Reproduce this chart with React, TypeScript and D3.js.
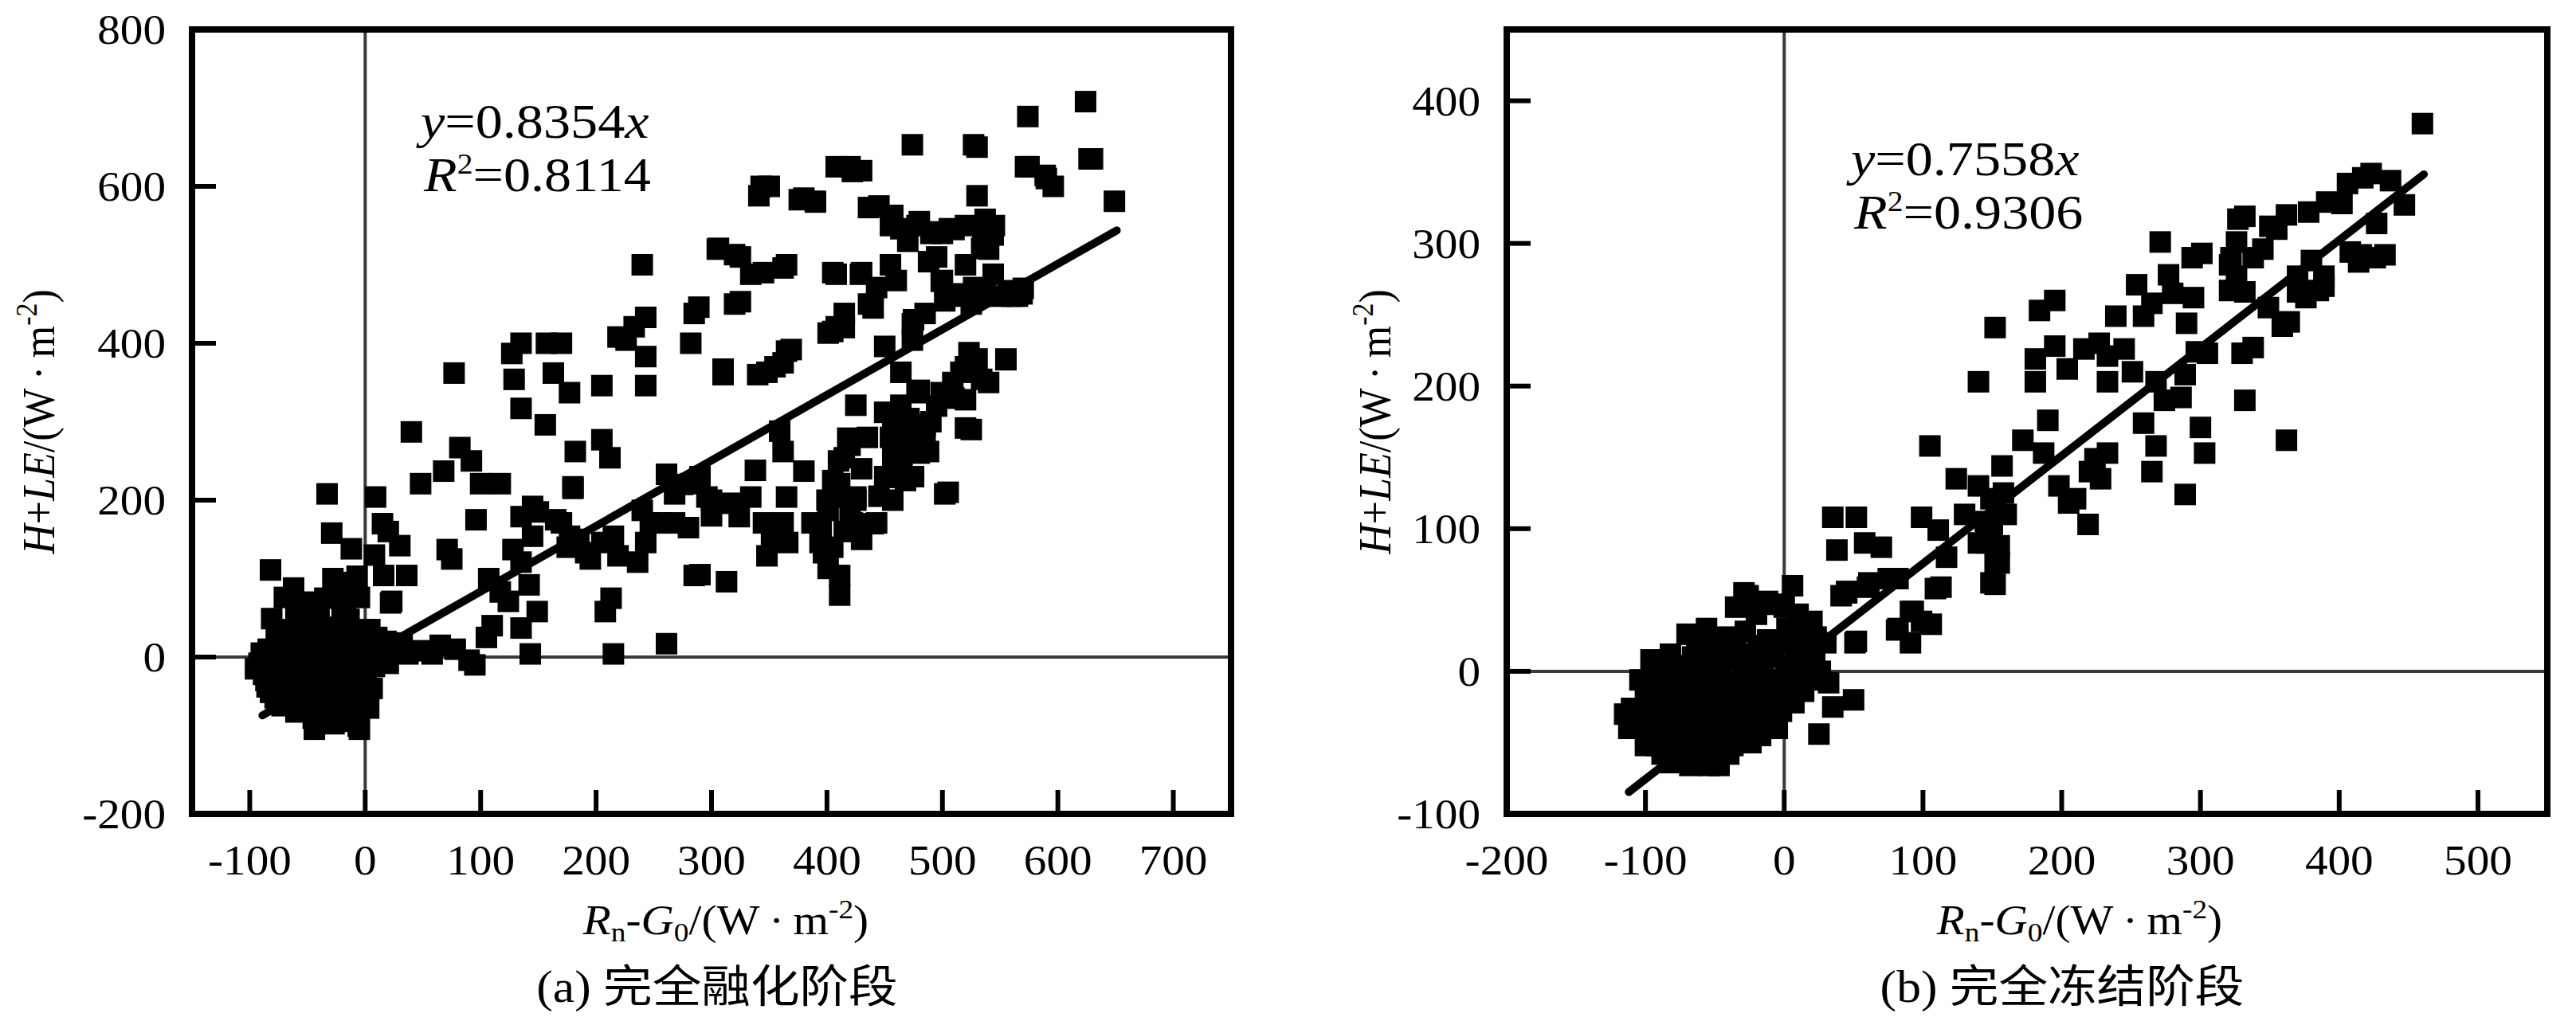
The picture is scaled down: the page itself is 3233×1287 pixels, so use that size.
import React from 'react';
import * as d3 from 'd3';

// ---------- data ----------
const ticksAX = [-100, 0, 100, 200, 300, 400, 500, 600, 700];
const ticksAY = [-200, 0, 200, 400, 600, 800];
const ticksBX = [-200, -100, 0, 100, 200, 300, 400, 500];
const ticksBY = [-100, 0, 100, 200, 300, 400];
const domainAX = [-150, 750];
const domainAY = [-200, 800];
const domainBX = [-200, 550];
const domainBY = [-100, 450];
const slopeA = 0.8354;
const slopeB = 0.7558;
const fitXA = [-89, 651];
const fitXB = [-112, 461];
const eqA = ['0.8354', '0.8114'];
const eqB = ['0.7558', '0.9306'];
const captionA = '(a) 完全融化阶段';
const captionB = '(b) 完全冻结阶段';

const pointsA: [number, number][] = [
  [-92,-8],[-90,5],[-88,-22],[-85,-38],[-84,10],[-80,-5],[-78,-52],[-77,22],[-74,-28],[-72,-62],[-70,5],[-68,35],[-66,-15],[-64,-42],[-62,18],[-60,-70],[-58,-5],[-56,45],[-55,-30],[-52,-55],[-50,10],[-48,30],[-46,-18],[-45,-78],[-43,-40],[-41,20],[-40,55],[-38,-5],[-36,-62],[-34,-28],[-32,38],[-30,8],[-28,-50],[-27,-85],[-25,-15],[-22,25],[-20,-70],[-18,-38],[-16,5],[-14,48],[-12,-22],[-10,-55],[-8,15],[-6,-88],[-5,-40],[-3,-8],[0,30],[1,-28],[3,-65],[5,10],[8,-12],[10,25],[12,-3],[15,8],[18,20],[20,-8],[24,12],[28,5],[32,18],[-95,-15],[-82,-45],[-52,70],[-44,-92],[-5,-92],[-60,60],[-35,75],[-20,60],[-8,80],[-25,95],
  [-86,-30],[-79,-18],[-73,-42],[-67,-58],[-63,-8],[-57,-22],[-53,-45],[-49,-65],[-47,20],[-43,5],[-39,-30],[-37,-50],[-33,-12],[-31,22],[-29,-38],[-24,-58],[-23,5],[-19,-22],[-17,32],[-13,-45],[-11,-75],[-9,-5],[-7,-30],[-3,18],[-1,-52],[2,-8],[6,-40],[-88,0],[-76,-10],[-70,-35],[-65,28],[-54,-10],[-45,45],[-36,-20],[-26,-38],[-15,-10],[-2,-20],[4,35],[-60,-45],[-40,-68],[-30,-62],[-18,-82],[-10,-25],[-50,-35],
  [-82,111],[-62,88],[-28,100],[-7,103],[22,69],[36,104],[-81,49],[-70,76],[-17,69],[-5,76],[-33,208],[-29,158],[-12,138],[9,204],[15,170],[20,160],[16,104],[23,71],[30,142],[8,130],
  [40,287],[48,221],[68,237],[77,362],[71,137],[75,125],[82,267],[92,250],[100,221],[117,221],[96,175],[127,387],[129,354],[135,400],[135,317],[156,296],[135,179],[145,192],[107,100],[117,83],[124,71],[135,37],[142,92],[149,58],[143,4],[90,-4],[58,4],[37,4],[157,400],[170,400],[163,362],[177,337],[182,262],[205,277],[212,254],[205,346],[180,217],[170,171],[177,154],[191,133],[205,146],[215,154],[219,129],[208,58],[213,75],[215,4],[219,408],[226,404],[233,421],[243,433],[243,383],[243,346],[240,500],[240,187],[247,171],[243,146],[236,121],[261,233],[268,208],[261,17],[257,171],[268,171],[285,438],[282,400],[289,446],[282,221],[296,204],[285,104],[306,521],[320,513],[334,488],[325,453],[310,367],[313,96],[317,196],[324,179],[334,204],[338,238],[345,171],[348,129],[352,154],[359,288],[362,262],[365,204],[362,171],[366,146],[348,363],[362,375],[369,392],[343,600],[341,588],[362,496],[376,583],[390,581],[380,237],[387,171],[394,146],[397,133],[401,187],[408,204],[411,221],[401,113],[411,104],[411,79],[415,254],[418,279],[422,171],[425,204],[425,321],[408,421],[401,413],[408,488],[415,438],[408,625],[422,619],[436,573],[429,488],[436,450],[443,471],[443,171],[450,396],[450,312],[457,296],[457,563],[457,254],[460,229],[457,200],[464,321],[471,304],[474,279],[478,337],[485,296],[488,262],[464,363],[474,404],[474,425],[485,438],[474,653],[464,546],[478,550],[492,542],[506,546],[520,550],[488,504],[499,479],[502,454],[513,463],[527,471],[502,208],[499,337],[509,350],[516,363],[520,328],[520,292],[527,653],[530,588],[537,558],[544,538],[534,521],[544,488],[537,463],[523,388],[534,354],[555,379],[557,467],[569,463],[574,689],[572,625],[589,614],[596,600],[624,708],[627,635],[649,581],
  [23,12],[50,8],[65,15],[78,10],[95,-10],[105,25],[110,40],[128,137],[135,121],[145,154],[150,185],[165,175],[175,140],[180,215],[185,150],[195,125],[280,165],[290,105],[300,200],[275,220],[290,230],[300,180],
  [405,225],[410,250],[420,270],[420,180],[425,200],[430,240],[415,160],[405,140],[430,150],[395,160],[400,200],[435,280],[440,170],[445,205],
  [455,280],[460,310],[465,250],[470,300],[475,230],[480,340],[485,280],[490,300],[470,270],[480,260],[495,320],[460,260],[450,230],[468,225],
  [440,445],[455,500],[460,480],[470,530],[475,430],[480,555],[490,540],[495,510],[500,540],[500,480],[510,545],[515,460],[520,500],[525,450],[530,650],[535,540],[540,520],[545,550],[550,460],[565,460],[575,625],[590,610],[630,635],[445,575],[455,550],[430,490],[415,420],[420,625],[430,620],[405,415],[405,490],[390,580],[380,585],[365,390],[365,500],[355,370],[350,600],[345,490],[340,360],[320,450],[325,510],[310,360],[305,520],
  [540,350],[555,380],[560,460],[570,470],[510,330],[520,370],[525,290],[530,380],[505,210]
];

const pointsB: [number, number][] = [
  [-70,26],[-56,30],[-42,24],[-28,28],[-12,22],[2,30],[16,26],
  [-96,8],[-82,12],[-66,10],[-52,14],[-38,8],[-22,12],[-8,10],[8,14],[22,10],[30,20],
  [-104,-6],[-90,-2],[-76,-6],[-62,-2],[-48,-4],[-34,-8],[-18,-2],[-4,-6],[12,-2],[26,0],[32,-8],
  [-110,-26],[-100,-20],[-86,-16],[-72,-20],[-58,-14],[-44,-20],[-30,-16],[-16,-22],[0,-16],[14,-14],
  [-106,-36],[-94,-34],[-80,-30],[-66,-36],[-52,-32],[-38,-36],[-24,-30],[-10,-34],[-2,-28],
  [-98,-44],[-86,-50],[-72,-46],[-58,-50],[-44,-46],[-30,-48],[-18,-42],
  [-88,-58],[-74,-62],[-60,-60],[-47,-64],[-40,-58],
  [-63,22],[-49,20],[-35,18],[-19,18],[-5,20],[9,22],[23,24],
  [-89,5],[-75,4],[-59,6],[-45,2],[-29,4],[-15,4],[1,4],[15,6],
  [-97,-12],[-83,-10],[-69,-12],[-55,-8],[-41,-12],[-25,-10],[-11,-12],[5,-8],[19,-6],
  [-103,-28],[-91,-24],[-79,-24],[-65,-26],[-51,-24],[-37,-26],[-23,-24],[-9,-24],[7,-22],
  [-101,-40],[-87,-40],[-73,-40],[-59,-42],[-45,-40],[-31,-40],[-17,-36],[-5,-40],
  [-92,-52],[-79,-54],[-65,-54],[-51,-56],[-37,-52],[-24,-50],
  [-82,-64],[-68,-66],[-54,-66],
  [-115,-30],[-112,-40],[-100,-52],[50,-20],[35,-25],[25,-44],[-17,-45],[-47,-66],
  [-29,55],[6,60],[-12,49],[-26,53],[-9,47],[45,55],[60,59],[10,40],[20,35],[-20,40],[0,45],[-35,45],
  [460,384],[423,349],[437,344],[406,342],[447,327],[391,329],[378,322],[362,320],[332,319],[355,310],[427,314],[326,301],[301,293],[345,296],[416,292],[433,292],[322,290],[380,288],[326,277],[370,277],[389,277],[332,266],[370,266],[389,270],[349,255],[364,245],[295,262],[305,223],[338,227],[330,223],[414,287],[426,290],[408,294],[385,267],[376,262],[359,242],[362,162],[338,290],[321,285],[321,267],[332,190],[417,346],[402,328],[350,312],[327,317],[290,244],[297,224],[289,208],[286,192],[300,171],[303,153],[289,124],
  [271,301],[294,290],[277,278],[280,265],[254,271],[265,258],[259,249],[239,249],[195,260],[184,253],[152,241],[195,228],[181,219],[181,203],[204,212],[216,226],[227,230],[233,221],[245,226],[233,203],[251,210],[268,203],[274,190],[259,174],[268,158],[265,140],[172,162],[190,176],[187,153],[198,130],[210,121],[219,103],[224,149],[233,153],[140,203],[220,140],[228,135],[205,118],
  [105,158],[124,135],[140,130],[149,121],[157,144],[146,90],[152,76],[149,62],[99,108],[111,99],[117,80],[109,58],[93,42],[99,35],[82,30],[35,108],[52,108],[58,90],[38,85],[70,87],[82,65],[61,62],[41,53],[52,21],[45,56],[75,65],[113,59],[152,61],[155,76],[91,42],[81,29],[91,20],[106,33],[51,20],[150,100],[160,110],[145,105],[155,88],[158,125],[130,110],[140,90]
];

// ---------- style ----------
const SERIF = "'Liberation Serif', 'Times New Roman', 'Noto Sans CJK SC', serif";
const STRETCH = 1.1;
const TICK_FS = 52;
const SUB_FS = 34;

type PanelProps = {
  points: [number, number][];
  xDomain: number[];
  yDomain: number[];
  xRange: number[];
  yRange: number[];
  xTicks: number[];
  yTicks: number[];
  slope: number;
  fitX: number[];
  eq: string[];
  eqPos: number[];
  caption: string;
  xTitleX: number;
  captionX: number;
  yTitleX: number;
};

function SText(props: { x: number; y: number; anchor?: string; size: number; rotate?: boolean; children: any }) {
  const { x, y, anchor = 'start', size, rotate, children } = props;
  const tr = rotate
    ? `translate(${x},${y}) rotate(-90) scale(1,${STRETCH})`
    : `translate(${x},${y}) scale(${STRETCH},1)`;
  return (
    <g transform={tr}>
      <text x={0} y={0} textAnchor={anchor as any} fontSize={size} fontFamily={SERIF} fill="#000">
        {children}
      </text>
    </g>
  );
}

function Panel(p: PanelProps) {
  const x = d3.scaleLinear().domain(p.xDomain).range(p.xRange);
  const y = d3.scaleLinear().domain(p.yDomain).range(p.yRange);
  const [x0, x1] = p.xRange;
  const [yb, yt] = p.yRange;
  const sq = 27;
  const line = d3.line<number>().x((v) => x(v)).y((v) => y(v * p.slope));
  const tickLen = 30;
  return (
    <g>
      <line x1={x(0)} x2={x(0)} y1={yt} y2={yb} stroke="#3a3a3a" strokeWidth={4} />
      <line x1={x0} x2={x1} y1={y(0)} y2={y(0)} stroke="#3a3a3a" strokeWidth={4} />
      {p.points.map((d, i) => (
        <rect key={i} x={x(d[0]) - sq / 2} y={y(d[1]) - sq / 2} width={sq} height={sq} fill="#000" />
      ))}
      <path d={line(p.fitX) || ''} stroke="#000" strokeWidth={10} strokeLinecap="round" fill="none" />
      <rect x={x0} y={yt} width={x1 - x0} height={yb - yt} fill="none" stroke="#000" strokeWidth={8} />
      {p.xTicks.map((t) => (
        <g key={'xt' + t}>
          <line x1={x(t)} x2={x(t)} y1={yb} y2={yb - tickLen} stroke="#000" strokeWidth={6} />
          <SText x={x(t)} y={1098} anchor="middle" size={TICK_FS}>{String(t)}</SText>
        </g>
      ))}
      {p.yTicks.map((t) => (
        <g key={'yt' + t}>
          <line x1={x0} x2={x0 + tickLen} y1={y(t)} y2={y(t)} stroke="#000" strokeWidth={6} />
          <SText x={x0 - 33} y={y(t) + 18} anchor="end" size={TICK_FS}>{String(t)}</SText>
        </g>
      ))}
      <SText x={p.eqPos[0]} y={p.eqPos[1]} size={62}>
        <tspan fontStyle="italic">y</tspan>
        <tspan>={p.eq[0]}</tspan>
        <tspan fontStyle="italic">x</tspan>
      </SText>
      <SText x={p.eqPos[0] + 4} y={p.eqPos[1] + 67} size={62}>
        <tspan fontStyle="italic">R</tspan>
        <tspan fontSize={36} dy={-22}>2</tspan>
        <tspan dy={22}>={p.eq[1]}</tspan>
      </SText>
      <SText x={p.xTitleX} y={1173} anchor="middle" size={TICK_FS}>
        <tspan fontStyle="italic">R</tspan>
        <tspan fontSize={SUB_FS} dy={9}>n</tspan>
        <tspan dy={-9}>-</tspan>
        <tspan fontStyle="italic">G</tspan>
        <tspan fontSize={SUB_FS} dy={9}>0</tspan>
        <tspan dy={-9}>/(W{'\u2009·\u2009'}m</tspan>
        <tspan fontSize={SUB_FS} dy={-20}>-2</tspan>
        <tspan dy={20}>)</tspan>
      </SText>
      <SText x={p.yTitleX} y={(yb + yt) / 2} anchor="middle" size={TICK_FS} rotate>
        <tspan fontStyle="italic">H</tspan>
        <tspan>+</tspan>
        <tspan fontStyle="italic">LE</tspan>
        <tspan>/(W{'\u2009·\u2009'}m</tspan>
        <tspan fontSize={SUB_FS} dy={-20}>-2</tspan>
        <tspan dy={20}>)</tspan>
      </SText>
      <SText x={p.captionX} y={1258} anchor="middle" size={56}>{p.caption}</SText>
    </g>
  );
}

export default function App() {
  return (
    <svg
      width={3233}
      height={1287}
      viewBox="0 0 3233 1287"
      style={{ position: 'absolute', left: 0, top: 0, background: '#fff' }}
    >
      <rect x={0} y={0} width={3233} height={1287} fill="#fff" />
      <Panel
        points={pointsA}
        xDomain={domainAX}
        yDomain={domainAY}
        xRange={[241, 1545]}
        yRange={[1022, 37]}
        xTicks={ticksAX}
        yTicks={ticksAY}
        slope={slopeA}
        fitX={fitXA}
        eq={eqA}
        eqPos={[528, 173]}
        caption={captionA}
        xTitleX={911}
        captionX={900}
        yTitleX={68}
      />
      <Panel
        points={pointsB}
        xDomain={domainBX}
        yDomain={domainBY}
        xRange={[1891, 3197]}
        yRange={[1022, 37]}
        xTicks={ticksBX}
        yTicks={ticksBY}
        slope={slopeB}
        fitX={fitXB}
        eq={eqB}
        eqPos={[2323, 220]}
        caption={captionB}
        xTitleX={2610}
        captionX={2588}
        yTitleX={1745}
      />
    </svg>
  );
}
